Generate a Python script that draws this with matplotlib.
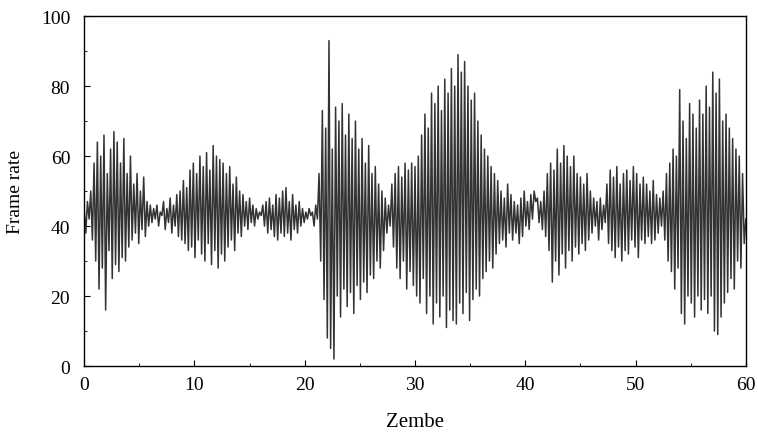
import numpy as np
import matplotlib
matplotlib.use("Agg")
import matplotlib.pyplot as plt
from matplotlib.ticker import MultipleLocator

plt.rcParams['font.family'] = ['Liberation Serif', 'DejaVu Serif']

# frame rate samples, one every 0.15 s from 0 to 60
frame_rate = [
    45, 38, 47, 42, 50, 36, 58, 30, 64, 22, 60, 28, 66, 16, 55, 33, 62, 25, 67, 29,
    64, 27, 58, 31, 65, 30, 55, 34, 60, 36, 52, 38, 55, 35, 50, 39, 54, 37, 47, 40,
    46, 41, 45, 42, 46, 40, 44, 43, 47, 39, 45, 41, 48, 38, 46, 40, 49, 37, 50, 36,
    53, 35, 51, 33, 56, 34, 58, 31, 55, 36, 60, 32, 57, 30, 61, 35, 56, 29, 63, 33,
    60, 28, 59, 32, 58, 30, 55, 34, 57, 36, 52, 33, 54, 38, 50, 37, 49, 40, 47, 39,
    48, 41, 46, 40, 45, 42, 44, 43, 46, 40, 47, 38, 48, 39, 46, 37, 49, 36, 48, 38,
    50, 37, 51, 38, 47, 36, 49, 39, 46, 38, 47, 40, 45, 41, 44, 42, 45, 43, 44, 40,
    46, 42, 55, 30, 73, 19, 68, 8, 93, 5, 62, 2, 74, 20, 70, 14, 75, 22, 66, 17,
    72, 21, 65, 15, 70, 23, 62, 19, 65, 24, 58, 21, 63, 26, 55, 25, 57, 30, 52, 28,
    50, 33, 48, 38, 46, 40, 52, 34, 55, 28, 57, 25, 54, 30, 58, 22, 56, 27, 58, 23,
    57, 20, 60, 18, 66, 25, 72, 15, 68, 20, 78, 12, 75, 18, 80, 14, 73, 20, 82, 11,
    78, 16, 85, 13, 80, 12, 89, 18, 84, 15, 87, 21, 80, 13, 76, 19, 78, 22, 70, 20,
    66, 25, 62, 27, 60, 30, 57, 28, 55, 32, 53, 35, 50, 36, 48, 34, 52, 38, 49, 36,
    47, 38, 46, 35, 48, 37, 50, 40, 47, 39, 49, 42, 50, 47, 48, 41, 47, 39, 50, 37,
    55, 33, 58, 24, 56, 30, 62, 26, 58, 32, 63, 28, 60, 33, 57, 30, 60, 34, 55, 32,
    54, 35, 52, 33, 55, 36, 50, 38, 48, 40, 47, 36, 48, 39, 46, 41, 52, 35, 56, 33,
    54, 31, 57, 34, 52, 30, 55, 33, 56, 32, 53, 36, 57, 34, 55, 31, 52, 36, 54, 35,
    52, 37, 50, 35, 53, 36, 49, 38, 48, 40, 50, 36, 55, 30, 58, 27, 62, 22, 60, 28,
    79, 15, 70, 12, 65, 20, 75, 18, 72, 14, 68, 20, 76, 16, 72, 19, 80, 15, 74, 20,
    84, 10, 78, 9, 82, 14, 70, 18, 72, 21, 68, 25, 65, 22, 62, 30, 60, 28, 55, 35,
    42,
]
t = np.linspace(0, 60, len(frame_rate))

fig = plt.figure(figsize=(7.58, 4.39), dpi=100)
ax = fig.add_axes([0.111, 0.164, 0.873, 0.797])
ax.plot(t, frame_rate, color='#333333', linewidth=1.1)

ax.set_xlim(0, 60)
ax.set_ylim(0, 100)
ax.xaxis.set_major_locator(MultipleLocator(10))
ax.xaxis.set_minor_locator(MultipleLocator(5))
ax.yaxis.set_major_locator(MultipleLocator(20))
ax.yaxis.set_minor_locator(MultipleLocator(10))
ax.tick_params(which='both', direction='in', top=False, right=False, labelsize=14)
ax.tick_params(axis='y', which='major', pad=10)
ax.tick_params(axis='x', which='major', pad=7)
ax.tick_params(which='major', length=4)
ax.tick_params(which='minor', length=2.5)
for s in ax.spines.values():
    s.set_linewidth(1.0)

ax.set_xlabel('Zembe', fontsize=15, labelpad=14)
ax.set_ylabel('Frame rate', fontsize=14, labelpad=12)

fig.savefig('out.png', dpi=100)
